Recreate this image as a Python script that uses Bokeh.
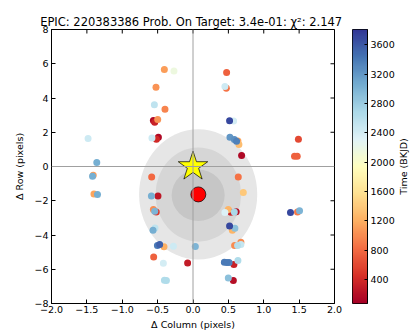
import numpy as np
from bokeh.plotting import figure
from bokeh.models import (Range1d, FixedTicker, CustomJSTickFormatter,
                          Span, LinearColorMapper, ColumnDataSource)
from bokeh.core.properties import value
from bokeh.layouts import row
from bokeh.embed import file_html
from bokeh.resources import INLINE

# ---------------- data ----------------
title_text = "EPIC: 220383386  Prob. On Target: 3.4e-01: \u03c7\u00b2: 2.147"
x_label = "\u0394 Column (pixels)"
y_label = "\u0394 Row (pixels)"
cbar_label = "Time (BKJD)"

x_ticks = [-2.0, -1.5, -1.0, -0.5, 0.0, 0.5, 1.0, 1.5, 2.0]
y_ticks = [-8, -6, -4, -2, 0, 2, 4, 6, 8]
cbar_ticks = [400, 800, 1200, 1600, 2000, 2400, 2800, 3200, 3600]
time_min, time_max = 73, 3810

# per-cadence centroid offsets (columns, rows) and times
d_col = [-0.405, -0.269, -0.523, -0.546, -0.396, -0.560, -0.541, -0.499, -0.580, -0.489,
         -0.517, -0.584, -0.588, -0.495, -0.560, -0.541, -0.520, -0.565, -0.537, -0.503,
         -0.471, -0.410, -0.277, 0.033, -0.556, -0.419, -0.076, -0.404, -0.376,
         0.475, 0.471, 0.451, 0.517, 0.574, 0.522, 0.584, 0.616, 0.635, 0.649,
         0.687, 0.640, 0.711, 0.499, 0.451, 0.536, 0.584, 0.610, 0.517, 0.592,
         0.556, 0.588, 0.630, 0.677, 0.677, 0.443, 0.479, 0.510, 0.578, 0.635,
         0.499, 0.570,
         -1.483, -1.360, -1.410, -1.420, -1.400, -1.350,
         1.490, 1.435, 1.473, 1.378, 1.477, 1.506]
d_row = [5.66, 5.58, 4.63, 3.61, 3.35, 2.69, 2.59, 2.74, 1.67, 1.71,
         1.59, -0.61, -1.72, -1.72, -2.51, -2.61, -2.65, -3.72, -3.59, -4.61,
         -4.55, -4.69, -4.65, -4.67, -5.28, -5.65, -5.63, -6.64, -6.66,
         5.49, 4.57, 4.67, 2.67, 2.66, 1.71, 1.58, 1.48, 1.49, 1.28,
         0.64, -0.61, -1.52, -2.51, -2.69, -2.67, -2.65, -2.64, -3.47, -3.60,
         -3.72, -4.61, -4.61, -4.42, -4.55, -5.59, -5.61, -5.61, -5.72, -5.49,
         -6.51, -6.66,
         1.64, 0.23, -0.51, -0.57, -1.60, -1.64,
         1.59, 0.60, 0.60, -2.69, -2.65, -2.59]
t_bkjd = [1100, 2150, 1050, 2550, 950, 150, 350, 1050, 2450, 150,
          400, 800, 3050, 250, 1000, 3000, 500, 3050, 2550, 3400,
          3550, 1200, 2450, 3000, 750, 2400, 300, 2650, 2650,
          750, 850, 2450, 3700, 2400, 3200, 3250, 3350, 1150, 1300,
          150, 850, 1400, 1250, 2350, 350, 2700, 200, 3700, 2900,
          1250, 1000, 2600, 1000, 2500, 3400, 3400, 3350, 350, 2650,
          2900, 200,
          2450, 3050, 1100, 3050, 1150, 3050,
          600, 750, 750, 3700, 900, 3000]

# uncertainty ellipses of the fitted position (outer -> inner)
ell_x = [0.073, 0.075, 0.073]
ell_y = [-1.63, -1.64, -1.68]
ell_w = [1.67, 1.21, 0.75]
ell_h = [7.60, 5.50, 3.00]
ell_colors = ["#e6e6e6", "#d6d6d6", "#c6c6c6"]

target_x, target_y = [0.0], [0.0]
fit_x, fit_y = [0.075], [-1.63]

rdylbu = ['#a50026', '#d73027', '#f46d43', '#fdae61', '#fee090', '#ffffbf',
          '#e0f3f8', '#abd9e9', '#74add1', '#4575b4', '#313695']

# ---------------- colour map ----------------
rgb = np.array([[int(c[i:i + 2], 16) for i in (1, 3, 5)] for c in rdylbu], dtype=float)
palette = []
for v in np.linspace(0, len(rdylbu) - 1, 256):
    i = min(int(v), len(rdylbu) - 2)
    f = v - i
    c = rgb[i] * (1 - f) + rgb[i + 1] * f
    palette.append('#%02x%02x%02x' % tuple(int(round(k)) for k in c))
mapper = LinearColorMapper(palette=palette, low=time_min, high=time_max)

FONT = "DejaVu Sans"
FS = "9.5px"

# ---------------- main figure ----------------
p = figure(frame_width=283, frame_height=274, x_range=Range1d(-2, 2), y_range=Range1d(-8, 8),
           output_backend="svg", toolbar_location=None,
           min_border_left=51, min_border_right=14, min_border_top=29, min_border_bottom=28)
p.background_fill_color = "white"
p.border_fill_color = "white"
p.outline_line_color = "black"
p.outline_line_width = 1
p.grid.visible = False

p.title.text = title_text
p.title.align = "center"
p.title.text_font = FONT
p.title.text_font_size = "11.5px"
p.title.text_font_style = "normal"
p.title.text_color = "black"
p.title.standoff = 2

minus_fmt1 = CustomJSTickFormatter(code="return tick.toFixed(1).replace('-', '\u2212');")
minus_fmt0 = CustomJSTickFormatter(code="return tick.toFixed(0).replace('-', '\u2212');")

xa = p.xaxis[0]
xa.ticker = FixedTicker(ticks=x_ticks)
xa.formatter = minus_fmt1
xa.axis_label = x_label
xa.major_label_standoff = 2
xa.axis_label_standoff = 3
ya0 = p.yaxis[0]
ya0.ticker = FixedTicker(ticks=y_ticks)
ya0.formatter = minus_fmt0
ya0.axis_label = y_label
ya0.major_label_standoff = 3
ya0.axis_label_standoff = 6

for ax in (xa, ya0):
    ax.major_tick_in = 4
    ax.major_tick_out = 0
    ax.minor_tick_line_color = None
    ax.axis_line_color = "black"
    ax.major_tick_line_color = "black"
    ax.axis_label_text_font = FONT
    ax.axis_label_text_font_style = "normal"
    ax.axis_label_text_font_size = FS
    ax.axis_label_text_color = "black"
    ax.major_label_text_font = FONT
    ax.major_label_text_font_size = FS
    ax.major_label_text_color = "black"

p.ellipse(x=ell_x, y=ell_y, width=ell_w, height=ell_h, fill_color=ell_colors, line_color=None)

p.add_layout(Span(location=0, dimension="height", line_color="#a0a0a0", line_width=1))
p.add_layout(Span(location=0, dimension="width", line_color="#a0a0a0", line_width=1))

# inward tick marks on the top and right frame edges
p.ray(x=x_ticks, y=[y_ticks[-1]] * len(x_ticks), length=4, length_units="screen",
      angle=-np.pi / 2, line_color="black", line_width=1)
p.ray(x=[x_ticks[-1]] * len(y_ticks), y=y_ticks, length=4, length_units="screen",
      angle=np.pi, line_color="black", line_width=1)

order = np.argsort(t_bkjd, kind="stable")
src = ColumnDataSource(dict(x=[d_col[i] for i in order], y=[d_row[i] for i in order],
                            t=[t_bkjd[i] for i in order]))
p.scatter(x="x", y="y", source=src, size=7, line_color=None,
          fill_color={"field": "t", "transform": mapper})

p.scatter(x=target_x, y=target_y, marker="star", size=31, fill_color="#ffff00",
          line_color="black", line_width=0.7)
p.scatter(x=fit_x, y=fit_y, marker="circle", size=15, fill_color="#ff0000",
          line_color="black", line_width=0.7)

# ---------------- colour bar ----------------
p2 = figure(frame_width=15, frame_height=274, x_range=Range1d(0, 1),
            y_range=Range1d(time_min, time_max), output_backend="svg", toolbar_location=None,
            x_axis_location=None, y_axis_location="right",
            min_border_left=4, min_border_right=28, min_border_top=29, min_border_bottom=28)
p2.grid.visible = False
p2.outline_line_color = "black"
p2.border_fill_color = "white"
grad = np.linspace(time_min, time_max, 256).reshape(256, 1)
p2.image(image=[grad], x=0, y=time_min, dw=1, dh=time_max - time_min, color_mapper=mapper)
ya = p2.yaxis[0]
ya.ticker = FixedTicker(ticks=cbar_ticks)
ya.major_tick_in = 3
ya.major_tick_out = 0
ya.minor_tick_line_color = None
ya.axis_line_color = "black"
ya.major_label_standoff = 3
ya.major_label_text_font = FONT
ya.major_label_text_font_size = FS
ya.major_label_text_color = "black"

# colour-bar label, reading bottom to top
p3 = figure(frame_width=12, frame_height=274, x_range=Range1d(-1, 1), y_range=Range1d(-1, 1),
            output_backend="svg", toolbar_location=None,
            x_axis_location=None, y_axis_location=None,
            min_border_left=0, min_border_right=4, min_border_top=29, min_border_bottom=28)
p3.grid.visible = False
p3.outline_line_color = None
p3.border_fill_color = "white"
p3.text(x=[0], y=[0], text=[cbar_label], angle=np.pi / 2, text_align="center",
        text_baseline="middle", text_font=value(FONT), text_font_size=FS, text_color="black")

layout = row(p, p2, p3)
open("out.html", "w").write(file_html(layout, INLINE))
